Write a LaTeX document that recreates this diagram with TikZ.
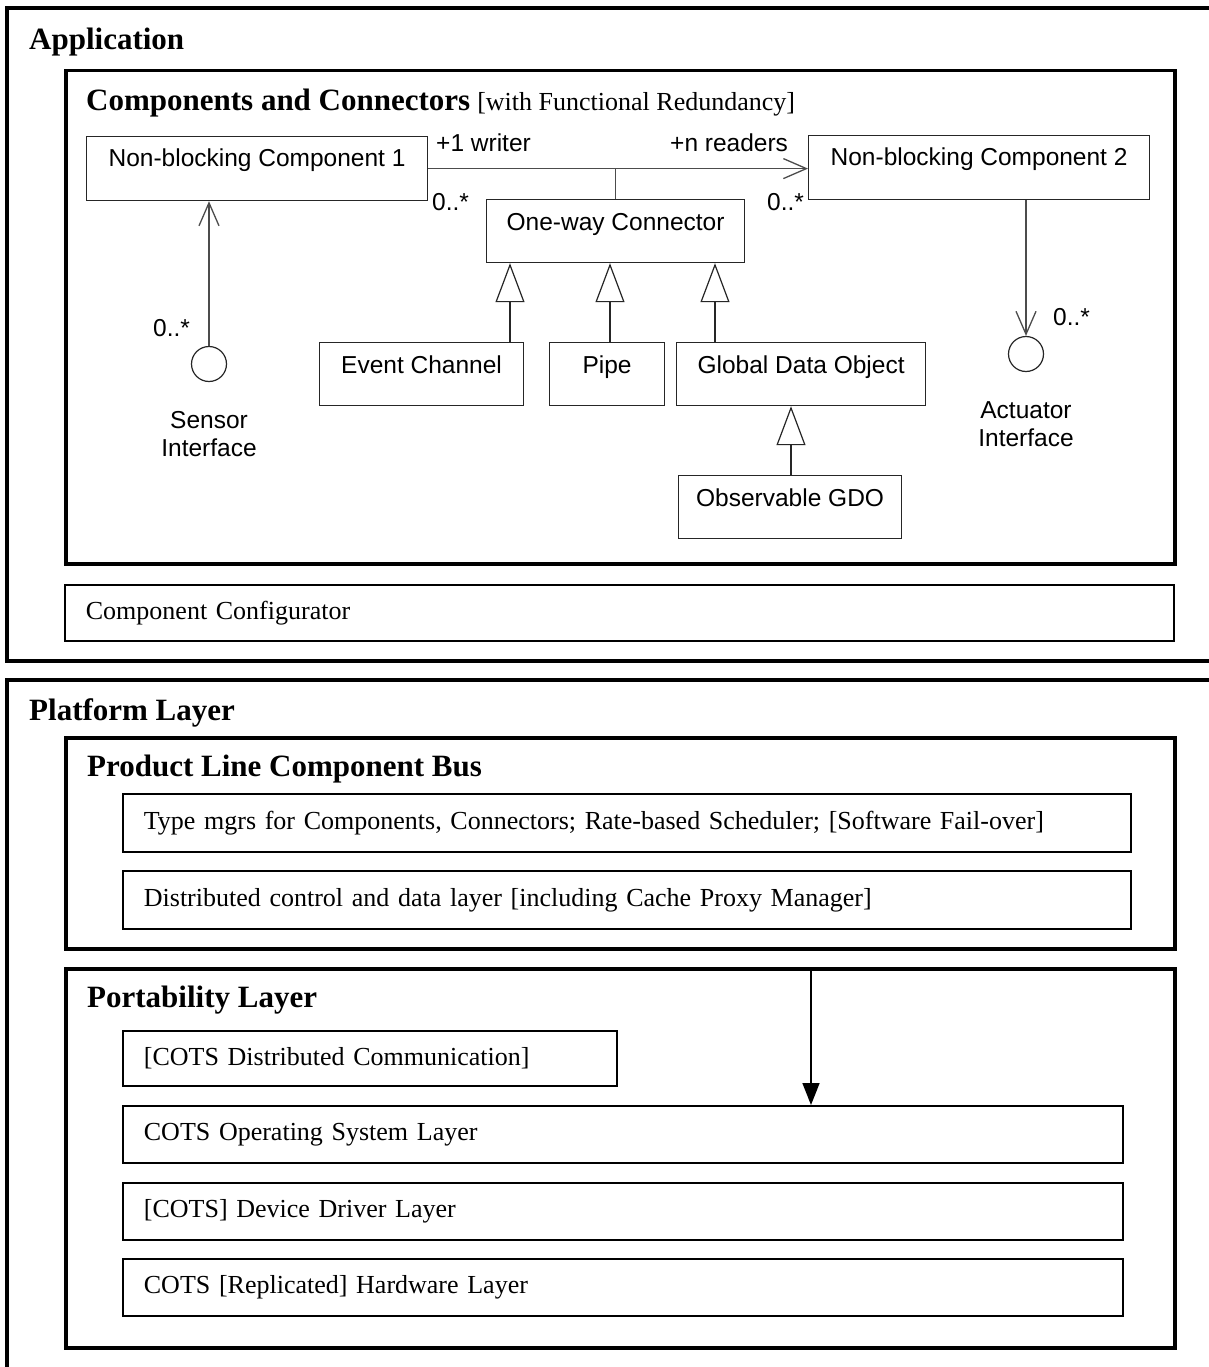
\documentclass[tikz,border=0pt]{standalone}
\usepackage{fontspec}
\setmainfont{Liberation Serif}
\newfontfamily\umlfam{Liberation Sans}
\usetikzlibrary{arrows.meta}
\newcommand\hdfont{\fontsize{31}{36}\selectfont\bfseries}
\newcommand\rgfont{\fontsize{26}{30}\selectfont}
\newcommand\umfont{\umlfam\fontsize{24.5}{28}\selectfont}
\begin{document}
\begin{tikzpicture}[x=1pt,y=-1pt,
  bigframe/.style={draw, line width=4pt, anchor=north west, inner sep=0pt},
  frame/.style={draw, line width=3.5pt, anchor=north west, inner sep=0pt},
  layer/.style={draw, line width=1.8pt, anchor=north west, inner xsep=21pt, inner ysep=0pt, align=left, font=\rgfont},
  umltxt/.style={font=\umfont, inner sep=0pt},
  cls/.style={draw=black!85, line width=1.2pt, anchor=north west, inner sep=0pt,
    label={[umltxt, anchor=base, yshift=-31pt]north:#1}},
  iface/.style={draw=black!85, line width=1.2pt, circle, minimum size=35pt, inner sep=0pt},
  assoc/.style={draw=black!70, line width=1.3pt},
  barb/.style={-{Straight Barb[length=23pt, width=20pt]}},
  gen/.style={draw=black!85, line width=1.2pt, -{Triangle[open, length=39pt, width=29pt, fill=white]}},
  dep/.style={draw, line width=1.6pt, -{Triangle[length=22pt, width=17pt]}},
  head/.style={anchor=base west, inner sep=0pt, font=\hdfont}
]
\useasboundingbox (0,0) rectangle (1209,1367);
\clip (0,0) rectangle (1209,1367);
\fill[white] (0,0) rectangle (1209,1367);

% ---------- Application ----------
\node[bigframe, minimum width=1230pt, minimum height=653pt] (app) at (5,6) {};
\node[head] (applab) at (29,50) {Application};

\node[frame, minimum width=1109pt, minimum height=493pt] (cc) at (64,69) {};
\node[anchor=base west, inner sep=0pt] (cclab) at (86,111)
  {{\hdfont Components and Connectors}\hspace{7pt}{\rgfont [with Functional Redundancy]}};

\node[layer, minimum height=56pt, text width=1067pt] (cfg) at (64,584) {Component Configurator};

% UML classes
\node[cls={Non-blocking Component 1}, minimum width=341pt, minimum height=64pt] (nbc1) at (86,136) {};
\node[cls={Non-blocking Component 2}, minimum width=341pt, minimum height=64pt] (nbc2) at (808,135) {};
\node[cls={One-way Connector}, minimum width=258pt, minimum height=63pt] (owc) at (486,199) {};
\node[cls={Event Channel}, minimum width=204pt, minimum height=63pt] (ec) at (319,342) {};
\node[cls={Pipe}, minimum width=115pt, minimum height=63pt] (pipe) at (549,342) {};
\node[cls={Global Data Object}, minimum width=249pt, minimum height=63pt] (gdo) at (676,342) {};
\node[cls={Observable GDO}, minimum width=223pt, minimum height=63pt] (ogdo) at (678,475) {};

\node[iface] (sens) at (209,364) {};
\node[iface] (act) at (1026,354) {};
\node[umltxt, align=center, anchor=north] (senslab) at (209,411) {Sensor\\Interface};
\node[umltxt, align=center, anchor=north] (actlab) at (1026,401) {Actuator\\Interface};

% association
\draw[assoc, barb] (nbc1.east) -- (nbc1.east -| nbc2.west);
\draw[assoc] (owc.north) -- (owc.north |- nbc1.east);
\node[umltxt, anchor=base west] (wr) at (436,152) {+1 writer};
\node[umltxt, anchor=base west] (rd) at (670,152) {+n readers};
\node[umltxt, anchor=base west] (m1) at (432,210) {0..*};
\node[umltxt, anchor=base west] (m2) at (767,210) {0..*};

% sensor / actuator
\draw[assoc, barb] (sens.north) -- (sens.north |- nbc1.south);
\node[umltxt, anchor=base west] (m3) at (153,336) {0..*};
\draw[assoc, barb] (act.north |- nbc2.south) -- (act.north);
\node[umltxt, anchor=base west] (m4) at (1053,325) {0..*};

% generalizations
\coordinate (g1) at (510,0);
\coordinate (g2) at (610,0);
\coordinate (g3) at (715,0);
\coordinate (g4) at (791,0);
\draw[gen] (ec.north -| g1) -- (owc.south -| g1);
\draw[gen] (pipe.north -| g2) -- (owc.south -| g2);
\draw[gen] (gdo.north -| g3) -- (owc.south -| g3);
\draw[gen] (ogdo.north -| g4) -- (gdo.south -| g4);

% ---------- Platform Layer ----------
\node[bigframe, minimum width=1230pt, minimum height=720pt] (plat) at (5,678) {};
\node[head] (platlab) at (29,720) {Platform Layer};

\node[frame, minimum width=1109pt, minimum height=211pt] (plcb) at (64,736) {};
\node[head] (plcblab) at (87,776) {Product Line Component Bus};
\node[layer, minimum height=58pt, text width=966pt] (tm) at (122,793)
  {Type mgrs for Components, Connectors; Rate-based Scheduler; [Software Fail-over]};
\node[layer, minimum height=58pt, text width=966pt] (dc) at (122,870)
  {Distributed control and data layer [including Cache Proxy Manager]};

\node[frame, minimum width=1109pt, minimum height=379pt] (port) at (64,967) {};
\node[head] (portlab) at (87,1007) {Portability Layer};
\node[layer, minimum height=55pt, text width=452pt] (cdc) at (122,1030) {[COTS Distributed Communication]};
\node[layer, minimum height=57pt, text width=958pt] (os) at (122,1105) {COTS Operating System Layer};
\node[layer, minimum height=57pt, text width=958pt] (dd) at (122,1182) {[COTS] Device Driver Layer};
\node[layer, minimum height=57pt, text width=958pt] (hw) at (122,1258) {COTS [Replicated] Hardware Layer};

\coordinate (pa) at (811,0);
\draw[dep] (port.north -| pa) -- (os.north -| pa);
\end{tikzpicture}
\end{document}
